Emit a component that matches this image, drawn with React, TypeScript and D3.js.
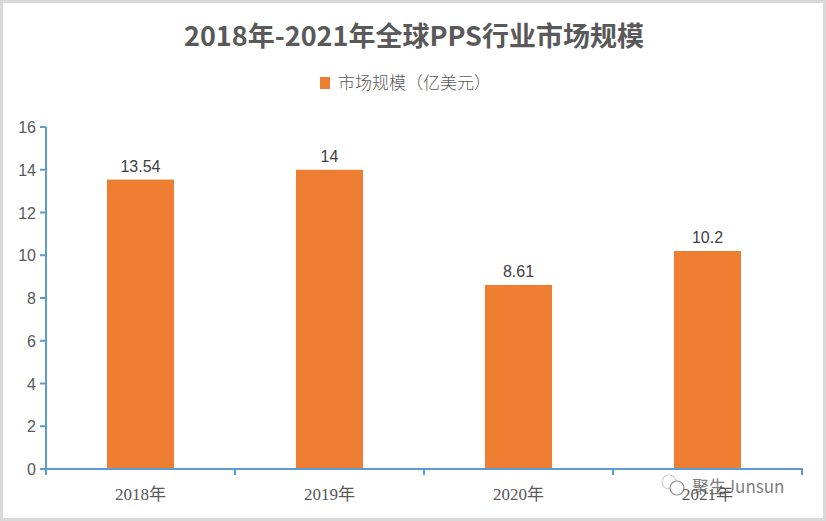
import React, { useEffect, useRef } from 'react';
import * as d3 from 'd3';

const categories = ['2018年', '2019年', '2020年', '2021年'];
const values = [13.54, 14, 8.61, 10.2];
const valueLabels = ['13.54', '14', '8.61', '10.2'];
const yTicks = [0, 2, 4, 6, 8, 10, 12, 14, 16];
const title = '2018年-2021年全球PPS行业市场规模';
const seriesName = '市场规模（亿美元）';

const W = 826;
const H = 521;

export default function App() {
  const svgRef = useRef<SVGSVGElement>(null);

  useEffect(() => {
    if (!svgRef.current) return;
    const svg = d3.select(svgRef.current);
    svg.selectAll('*').remove();

    const left = 46, right = 802, top = 127, bottom = 469;
    const axisColor = '#5B9BD5';
    const textColor = '#595959';
    const sans = '"Liberation Sans", Calibri, "Noto Sans CJK SC", sans-serif';

    svg.append('rect').attr('width', W).attr('height', H).attr('fill', '#ffffff');
    svg.append('rect')
      .attr('x', 1.5).attr('y', 1.5).attr('width', W - 3).attr('height', H - 3)
      .attr('fill', 'none').attr('stroke', '#d9d9d9').attr('stroke-width', 3);

    const x = d3.scaleBand<string>().domain(categories).range([left, right]).paddingInner(0).paddingOuter(0);
    const y = d3.scaleLinear().domain([0, 16]).range([bottom, top]);
    const barW = x.bandwidth() * 0.355;

    // title
    svg.append('text')
      .attr('x', W / 2 + 1).attr('y', 46)
      .attr('text-anchor', 'middle')
      .attr('font-family', '"Noto Sans CJK SC", sans-serif')
      .attr('font-weight', 'bold')
      .attr('font-size', 27)
      .attr('fill', textColor)
      .text(title);

    // legend
    svg.append('rect').attr('x', 320).attr('y', 77).attr('width', 10).attr('height', 12).attr('fill', '#ED7D31');
    svg.append('text')
      .attr('x', 338).attr('y', 89)
      .attr('font-family', '"Noto Sans CJK SC", sans-serif')
      .attr('font-weight', 300)
      .attr('font-size', 17)
      .attr('fill', textColor)
      .text(seriesName);

    // bars
    svg.selectAll('.bar')
      .data(values)
      .enter()
      .append('rect')
      .attr('class', 'bar')
      .attr('x', (_, i) => x(categories[i])! + (x.bandwidth() - barW) / 2)
      .attr('y', d => y(d))
      .attr('width', barW)
      .attr('height', d => y(0) - y(d))
      .attr('fill', '#ED7D31');

    // value labels
    svg.selectAll('.val')
      .data(values)
      .enter()
      .append('text')
      .attr('x', (_, i) => x(categories[i])! + x.bandwidth() / 2)
      .attr('y', d => y(d) - 8)
      .attr('text-anchor', 'middle')
      .attr('font-family', sans)
      .attr('font-size', 16)
      .attr('fill', '#404040')
      .text((_, i) => valueLabels[i]);

    // y axis
    svg.append('line')
      .attr('x1', left).attr('x2', left).attr('y1', top).attr('y2', bottom + 5)
      .attr('stroke', axisColor).attr('stroke-width', 2);
    yTicks.forEach(t => {
      svg.append('line')
        .attr('x1', left - 6).attr('x2', left).attr('y1', y(t)).attr('y2', y(t))
        .attr('stroke', axisColor).attr('stroke-width', 2);
      svg.append('text')
        .attr('x', 36).attr('y', y(t) + 6)
        .attr('text-anchor', 'end')
        .attr('font-family', sans)
        .attr('font-size', 16)
        .attr('fill', textColor)
        .text(t);
    });

    // x axis
    svg.append('line')
      .attr('x1', left - 6).attr('x2', right + 1).attr('y1', bottom).attr('y2', bottom)
      .attr('stroke', axisColor).attr('stroke-width', 2);
    const bounds = [...categories.map(c => x(c)!), right];
    bounds.forEach(b => {
      svg.append('line')
        .attr('x1', b).attr('x2', b).attr('y1', bottom).attr('y2', bottom + 6)
        .attr('stroke', axisColor).attr('stroke-width', 2);
    });
    categories.forEach(c => {
      svg.append('text')
        .attr('x', x(c)! + x.bandwidth() / 2)
        .attr('y', 500)
        .attr('text-anchor', 'middle')
        .attr('font-family', '"Liberation Serif", "Noto Sans CJK SC", serif')
        .attr('font-size', 17)
        .attr('fill', textColor)
        .text(c);
    });

    // watermark
    const wm = svg.append('g').attr('opacity', 0.75);
    wm.append('circle').attr('cx', 669).attr('cy', 482).attr('r', 7)
      .attr('fill', 'none').attr('stroke', '#bbbbbb').attr('stroke-width', 1.2);
    wm.append('circle').attr('cx', 677).attr('cy', 488).attr('r', 7)
      .attr('fill', '#ffffff').attr('stroke', '#666666').attr('stroke-width', 1.2);
    wm.append('text')
      .attr('x', 692).attr('y', 493)
      .attr('font-family', '"Noto Sans CJK SC", sans-serif')
      .attr('font-size', 17)
      .attr('fill', '#555555')
      .text('聚生Junsun');
  }, []);

  return (
    <svg
      ref={svgRef}
      width={W}
      height={H}
      style={{ position: 'absolute', left: 0, top: 0, display: 'block' }}
    />
  );
}
